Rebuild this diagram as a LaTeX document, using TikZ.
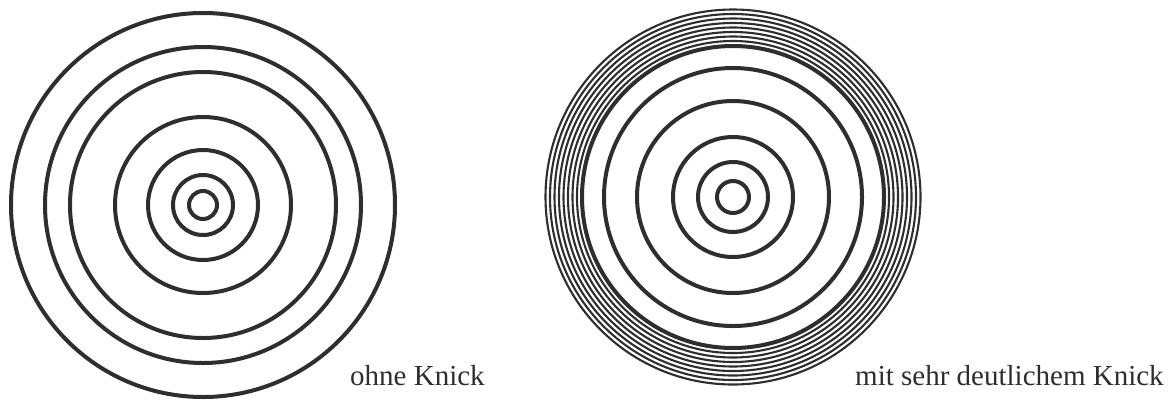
\documentclass[tikz,border=0pt]{standalone}
\usepackage{fontspec}
\setmainfont{Liberation Serif}
\usepackage{xcolor}
\definecolor{Ink}{HTML}{2E2E2E}

\begin{document}
\begin{tikzpicture}[
            x=1pt, y=-1pt,
            ring/.style={draw=Ink, line width=4pt},
            thinring/.style={draw=Ink, line width=2.1pt},
            caption/.style={font=\fontsize{29}{34}\selectfont, text=Ink, anchor=base west, inner sep=0pt}
        ]
            \useasboundingbox (0,0) rectangle (1170,400);

            % left: ohne Knick
            \coordinate (lc) at (203,205);
            \foreach \r in {14,30,55,88,133,158,192}
                \draw[ring] (lc) circle (\r);
            \node[caption] (ohne) at (350,385) {ohne Knick};

            % right: mit sehr deutlichem Knick
            \coordinate (rc) at (733,197);
            \foreach \r in {16,35,60,96,129,151}
                \draw[ring] (rc) circle (\r);
            \foreach \r in {156,160.5,165,169.5,174,178.5,183,187.5}
                \draw[thinring] (rc) circle (\r);
            \node[caption] (mit) at (855,385) {mit sehr deutlichem Knick};
        \end{tikzpicture}
\end{document}
